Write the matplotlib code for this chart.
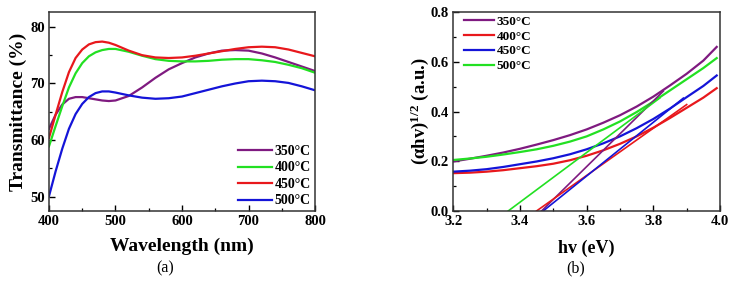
import matplotlib

matplotlib.use("Agg")
import matplotlib.pyplot as plt
from matplotlib.ticker import MultipleLocator, FormatStrFormatter


# panel (a): transmittance spectra
wavelength = [400, 410, 420, 430, 440, 450, 460, 470, 480, 490, 500, 520, 540, 560,
              580, 600, 620, 640, 660, 680, 700, 720, 740, 760, 780, 800]
trans_350 = [62.0, 64.5, 66.3, 67.3, 67.6, 67.6, 67.4, 67.2, 67.0, 66.9, 67.0, 67.8, 69.3, 71.0,
             72.5, 73.6, 74.6, 75.3, 75.8, 75.9, 75.8, 75.3, 74.6, 73.8, 73.0, 72.2]
trans_400 = [58.9, 62.5, 66.0, 69.3, 71.8, 73.6, 74.8, 75.5, 75.9, 76.1, 76.1, 75.6, 74.9, 74.3,
             74.0, 73.9, 73.9, 74.0, 74.2, 74.3, 74.3, 74.1, 73.8, 73.3, 72.7, 71.9]
trans_450 = [60.4, 64.5, 68.5, 72.0, 74.5, 76.0, 76.9, 77.3, 77.4, 77.2, 76.8, 75.8, 75.0, 74.6,
             74.5, 74.6, 74.9, 75.3, 75.7, 76.1, 76.4, 76.5, 76.4, 76.0, 75.4, 74.8]
trans_500 = [50.1, 54.5, 58.5, 62.0, 64.6, 66.4, 67.6, 68.3, 68.6, 68.6, 68.4, 67.9, 67.5, 67.3,
             67.4, 67.7, 68.3, 68.9, 69.5, 70.0, 70.4, 70.5, 70.4, 70.1, 69.5, 68.8]
labels_a = ["350°C", "400°C", "450°C", "500°C"]

# panel (b): Tauc plot
energy = [3.20, 3.25, 3.30, 3.35, 3.40, 3.45, 3.50, 3.55, 3.60, 3.65, 3.70, 3.75,
          3.80, 3.85, 3.90, 3.95, 3.99]
tauc_350 = [0.199, 0.210, 0.222, 0.235, 0.250, 0.267, 0.285, 0.305, 0.328, 0.355, 0.385,
            0.420, 0.460, 0.505, 0.552, 0.605, 0.660]
tauc_400 = [0.152, 0.154, 0.158, 0.164, 0.172, 0.180, 0.190, 0.204, 0.222, 0.244, 0.270,
            0.300, 0.335, 0.374, 0.415, 0.456, 0.494]
tauc_450 = [0.158, 0.162, 0.168, 0.177, 0.188, 0.199, 0.212, 0.228, 0.248, 0.272, 0.300,
            0.333, 0.370, 0.412, 0.458, 0.503, 0.545]
tauc_500 = [0.205, 0.211, 0.218, 0.227, 0.237, 0.248, 0.262, 0.279, 0.300, 0.328, 0.360,
            0.398, 0.440, 0.485, 0.530, 0.575, 0.615]
labels_b = ["350°C", "400°C", "450°C", "500°C"]

# linear fits (extrapolated to zero)
fit_x_350 = [3.465, 3.83]
fit_y_350 = [0.0, 0.482]
fit_x_400 = [3.45, 3.90]
fit_y_400 = [0.0, 0.428]
fit_x_450 = [3.47, 3.89]
fit_y_450 = [0.0, 0.454]
fit_x_500 = [3.365, 3.82]
fit_y_500 = [0.0, 0.455]

PURPLE = "#7f1a80"
GREEN = "#22e022"
RED = "#e8181c"
BLUE = "#1414d8"

BOLD = {"family": "Liberation Serif", "weight": "bold"}


def style_axes(ax):
    for s in ax.spines.values():
        s.set_linewidth(1.1)
        s.set_color("#333333")
    ax.tick_params(which="both", direction="in", top=False, right=False)
    ax.tick_params(which="major", length=4, width=1.0, labelsize=10.5, pad=3)
    ax.tick_params(which="minor", length=2.2, width=0.9)
    for lab in ax.get_xticklabels() + ax.get_yticklabels():
        lab.set_fontfamily("Liberation Serif")
        lab.set_fontweight("bold")


def main():
    plt.rcParams["font.family"] = ["Liberation Serif", "DejaVu Serif"]
    plt.rcParams["mathtext.default"] = "regular"
    fig = plt.figure(figsize=(7.31, 2.82), dpi=100)

    # (a)
    ax = fig.add_axes([0.067, 0.252, 0.364, 0.705])
    ax.plot(wavelength, trans_350, color=PURPLE, lw=1.6, label=labels_a[0])
    ax.plot(wavelength, trans_400, color=GREEN, lw=1.6, label=labels_a[1])
    ax.plot(wavelength, trans_450, color=RED, lw=1.6, label=labels_a[2])
    ax.plot(wavelength, trans_500, color=BLUE, lw=1.6, label=labels_a[3])
    ax.set_xlim(400, 800)
    ax.set_ylim(47.5, 82.6)
    ax.xaxis.set_major_locator(MultipleLocator(100))
    ax.xaxis.set_minor_locator(MultipleLocator(50))
    ax.yaxis.set_major_locator(MultipleLocator(10))
    ax.yaxis.set_minor_locator(MultipleLocator(5))
    ax.set_xlabel("Wavelength (nm)", fontsize=14, labelpad=7, **BOLD)
    ax.set_ylabel("Transmittance (%)", fontsize=14, labelpad=2, **BOLD)
    style_axes(ax)
    ax.legend(loc="lower right", frameon=False, prop={**BOLD, "size": 10},
              handlelength=2.4, handletextpad=0.2, labelspacing=0.25,
              borderaxespad=0.0, bbox_to_anchor=(1.005, -0.01))
    fig.text(0.226, 0.05, "(a)", fontsize=11.5, ha="center", va="center")

    # (b)
    bx = fig.add_axes([0.620, 0.252, 0.365, 0.705])
    bx.plot(energy, tauc_350, color=PURPLE, lw=1.6, label=labels_b[0])
    bx.plot(energy, tauc_400, color=RED, lw=1.6, label=labels_b[1])
    bx.plot(energy, tauc_450, color=BLUE, lw=1.6, label=labels_b[2])
    bx.plot(energy, tauc_500, color=GREEN, lw=1.6, label=labels_b[3])
    bx.plot(fit_x_350, fit_y_350, color=PURPLE, lw=1.2)
    bx.plot(fit_x_400, fit_y_400, color=RED, lw=1.2)
    bx.plot(fit_x_450, fit_y_450, color=BLUE, lw=1.2)
    bx.plot(fit_x_500, fit_y_500, color=GREEN, lw=1.2)
    bx.set_xlim(3.2, 4.0)
    bx.set_ylim(0.0, 0.8)
    bx.xaxis.set_major_locator(MultipleLocator(0.2))
    bx.xaxis.set_minor_locator(MultipleLocator(0.1))
    bx.yaxis.set_major_locator(MultipleLocator(0.2))
    bx.yaxis.set_minor_locator(MultipleLocator(0.1))
    bx.xaxis.set_major_formatter(FormatStrFormatter("%.1f"))
    bx.yaxis.set_major_formatter(FormatStrFormatter("%.1f"))
    bx.set_xlabel("hv (eV)", fontsize=13, labelpad=8, **BOLD)
    bx.set_ylabel("(αhv)$^{1/2}$ (a.u.)", fontsize=13.5, labelpad=0, **BOLD)
    style_axes(bx)
    bx.legend(loc="upper left", frameon=False, prop={**BOLD, "size": 9.5},
              handlelength=2.3, handletextpad=0.2, labelspacing=0.2,
              borderaxespad=0.0, bbox_to_anchor=(0.02, 1.01))
    fig.text(0.788, 0.05, "(b)", fontsize=11.5, ha="center", va="center")

    fig.savefig("out.png", dpi=100)
    plt.close(fig)


if __name__ == "__main__":
    main()
